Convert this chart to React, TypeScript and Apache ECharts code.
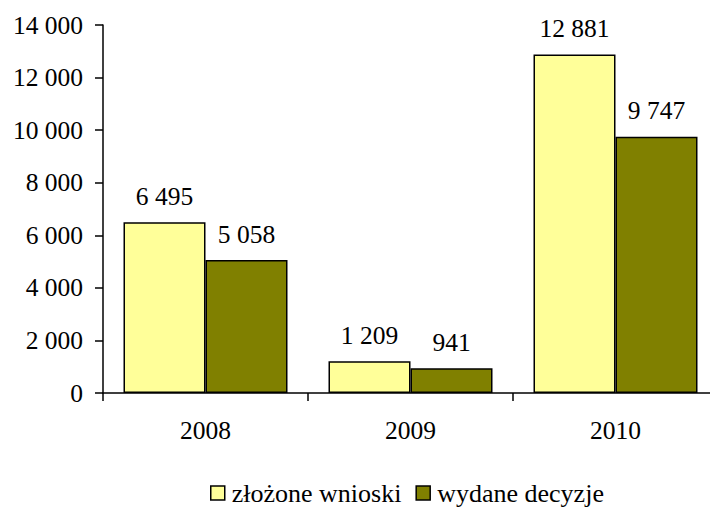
import React, { useEffect, useRef } from "react";
import * as echarts from "echarts";

const categories = ["2008", "2009", "2010"];
const seriesNames = ["złożone wnioski", "wydane decyzje"];
const submitted = [6495, 1209, 12881];
const issued = [5058, 941, 9747];
const colors = ["#FFFF99", "#808000"];

const fmt = (v: number) => String(v).replace(/\B(?=(\d{3})+(?!\d))/g, " ");

export default function App() {
  const ref = useRef<HTMLDivElement>(null);
  useEffect(() => {
    const chart = echarts.init(ref.current!, undefined, { renderer: "svg" });
    const font = "Liberation Serif";
    const fs = 25.5;
    const mk = (name: string, data: number[], color: string) => ({
      name,
      type: "bar",
      data,
      barGap: "0%",
      barCategoryGap: "20%",
      itemStyle: { color, borderColor: "#000", borderWidth: 1.5 },
      label: {
        show: true,
        position: "top",
        distance: 13,
        color: "#000",
        fontFamily: font,
        fontSize: fs,
        formatter: (p: any) => fmt(p.value),
      },
    });
    chart.setOption({
      animation: false,
      grid: { left: 103, top: 25, width: 615, bottom: 118 },
      legend: {
        bottom: 0,
        left: 205,
        itemWidth: 14,
        itemHeight: 14,
        itemGap: 14,
        icon: "rect",
        textStyle: { fontFamily: font, fontSize: 26, color: "#000", padding: [0, 0, 0, 2] },
        data: seriesNames.map((n, i) => ({
          name: n,
          itemStyle: { color: colors[i], borderColor: "#000", borderWidth: 1.5 },
        })),
      },
      xAxis: {
        type: "category",
        data: categories,
        axisLine: { lineStyle: { color: "#000", width: 1.5 } },
        axisTick: { show: true, length: 8, lineStyle: { color: "#000", width: 1.5 } },
        axisLabel: { color: "#000", fontFamily: font, fontSize: fs, margin: 24 },
      },
      yAxis: {
        type: "value",
        min: 0,
        max: 14000,
        interval: 2000,
        splitLine: { show: false },
        axisLine: { show: true, lineStyle: { color: "#000", width: 1.5 } },
        axisTick: { show: true, length: 8, lineStyle: { color: "#000", width: 1.5 } },
        axisLabel: {
          color: "#000",
          fontFamily: font,
          fontSize: fs,
          margin: 20,
          formatter: (v: number) => fmt(v),
        },
      },
      series: [mk(seriesNames[0], submitted, colors[0]), mk(seriesNames[1], issued, colors[1])],
    });
    return () => chart.dispose();
  }, []);
  return (
    <div style={{ position: "absolute", left: 0, top: 0, width: 710, height: 511, overflow: "hidden" }}>
      <div ref={ref} style={{ width: 740, height: 511 }} />
    </div>
  );
}
